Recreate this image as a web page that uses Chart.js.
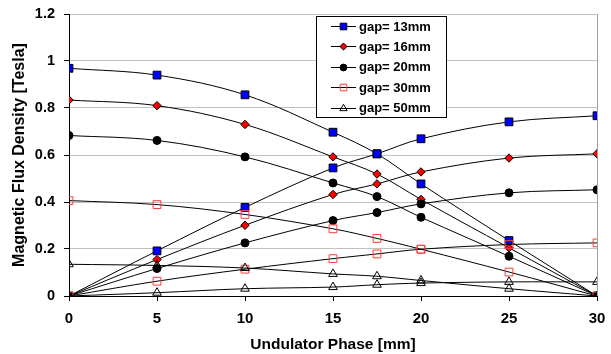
<!DOCTYPE html>
<html>
<head>
<meta charset="utf-8">
<script src="https://cdn.jsdelivr.net/npm/chart.js@4/dist/chart.umd.min.js"></script>
<style>
html,body{margin:0;padding:0;background:#fff;}
#wrap{width:611px;height:354px;position:relative;}
</style>
</head>
<body>
<div id="wrap"><canvas id="c" width="611" height="354"></canvas></div>
<script>
// Undulator phase [mm]
const phase = [0, 5, 10, 15, 17.5, 20, 25, 30];
// Magnetic flux density [Tesla], two curves per gap
const gap13Down = [0.969, 0.940, 0.856, 0.697, 0.605, 0.477, 0.236, 0];
const gap13Up   = [0, 0.192, 0.377, 0.545, 0.605, 0.669, 0.741, 0.767];
const gap16Down = [0.834, 0.810, 0.730, 0.592, 0.519, 0.411, 0.205, 0];
const gap16Up   = [0, 0.155, 0.301, 0.432, 0.477, 0.528, 0.587, 0.605];
const gap20Down = [0.683, 0.662, 0.592, 0.481, 0.423, 0.335, 0.169, 0];
const gap20Up   = [0, 0.117, 0.226, 0.321, 0.355, 0.392, 0.439, 0.452];
const gap30Down = [0.406, 0.389, 0.347, 0.286, 0.245, 0.199, 0.102, 0];
const gap30Up   = [0, 0.063, 0.114, 0.159, 0.179, 0.199, 0.219, 0.226];
const gap50Down = [0.135, 0.130, 0.119, 0.094, 0.084, 0.066, 0.031, 0];
const gap50Up   = [0, 0.014, 0.031, 0.038, 0.048, 0.055, 0.060, 0.060];
const seriesLabels = ['gap= 13mm', 'gap= 16mm', 'gap= 20mm', 'gap= 30mm', 'gap= 50mm'];
const yTicks = [0, 0.2, 0.4, 0.6, 0.8, 1, 1.2];
const xTicks = [0, 5, 10, 15, 20, 25, 30];

const FONT = "'Liberation Sans', Arial, sans-serif";
const styles = [
  {pointStyle:'rect', radius:5.5, bg:'#0000ff', border:'#000000'},
  {pointStyle:'rectRot', radius:4.2, bg:'#ff0000', border:'#000000'},
  {pointStyle:'circle', radius:4, bg:'#000000', border:'#000000'},
  {pointStyle:'rect', radius:5.5, bg:'rgba(0,0,0,0)', border:'#ff3b3b'},
  {pointStyle:'triangle', radius:5, bg:'rgba(255,255,255,0)', border:'#000000'}
];
const pairs = [[gap13Down, gap13Up],[gap16Down, gap16Up],[gap20Down, gap20Up],[gap30Down, gap30Up],[gap50Down, gap50Up]];

const datasets = [];
pairs.forEach((pair, i) => {
  pair.forEach((vals, j) => {
    const s = styles[i];
    datasets.push({
      label: seriesLabels[i],
      data: phase.map((x, k) => ({x: x, y: vals[k]})),
      borderColor: '#000000',
      borderWidth: 1,
      backgroundColor: s.bg,
      pointStyle: s.pointStyle,
      pointRadius: s.radius,
      pointBackgroundColor: s.bg,
      pointBorderColor: s.border,
      pointBorderWidth: 1,
      tension: 0.35,
      fill: false,
      order: -(i * 2 + j)
    });
  });
});

const legendPlugin = {
  id: 'boxLegend',
  afterDatasetsDraw(chart) {
    const ctx = chart.ctx;
    const x0 = 316, y0 = 16, w = 130, h = 101;
    ctx.save();
    ctx.fillStyle = '#ffffff';
    ctx.fillRect(x0, y0, w, h);
    ctx.strokeStyle = '#000000';
    ctx.lineWidth = 1;
    ctx.strokeRect(x0 + 0.5, y0 + 0.5, w, h);
    ctx.font = 'bold 13px ' + FONT;
    ctx.textBaseline = 'middle';
    ctx.textAlign = 'left';
    seriesLabels.forEach((lab, i) => {
      const cy = 26 + i * 20.4;
      const s = styles[i];
      ctx.strokeStyle = '#000000';
      ctx.lineWidth = 1;
      ctx.beginPath();
      ctx.moveTo(331, Math.round(cy) + 0.5);
      ctx.lineTo(356, Math.round(cy) + 0.5);
      ctx.stroke();
      ctx.fillStyle = s.bg;
      ctx.strokeStyle = s.border;
      Chart.helpers.drawPoint(ctx, {pointStyle: s.pointStyle, radius: s.radius * 0.85, rotation: 0, borderWidth: 1}, 343.5, Math.round(cy) + 0.5);
      ctx.fillStyle = '#000000';
      ctx.fillText(lab, 359, cy + 1);
    });
    ctx.restore();
  }
};

new Chart(document.getElementById('c'), {
  type: 'line',
  data: {datasets: datasets},
  plugins: [legendPlugin],
  options: {
    responsive: false,
    animation: false,
    devicePixelRatio: 1,
    layout: {padding: {left: 0, right: 14, top: 14, bottom: 0}},
    plugins: {legend: {display: false}, tooltip: {enabled: false}},
    scales: {
      x: {
        type: 'linear',
        min: 0, max: 30,
        afterBuildTicks(scale) { scale.ticks = xTicks.map(v => ({value: v})); },
        afterFit(scale) { scale.height = 58; scale.paddingLeft = 0; scale.paddingRight = 0; },
        ticks: {color: '#000', padding: 9, font: {family: FONT, size: 15, weight: 'bold'}},
        grid: {
          drawOnChartArea: true,
          color: ctx => (ctx.tick && ctx.tick.value === 30) ? '#a0a0a0' : 'rgba(0,0,0,0)',
          tickColor: '#000000',
          tickLength: 5
        },
        border: {display: true, color: '#000000', width: 1},
        title: {display: true, text: 'Undulator Phase [mm]', color: '#000', padding: {top: 3, bottom: 0}, font: {family: FONT, size: 15.5, weight: 'bold'}}
      },
      y: {
        type: 'linear',
        min: 0, max: 1.2,
        afterBuildTicks(scale) { scale.ticks = yTicks.map(v => ({value: v})); },
        afterFit(scale) { scale.width = 69; scale.paddingTop = 0; scale.paddingBottom = 0; },
        ticks: {color: '#000', padding: 9, font: {family: FONT, size: 14.5, weight: 'bold'},
          callback: v => String(Number(v.toFixed(1)))},
        grid: {
          color: ctx => (ctx.tick && ctx.tick.value === 0) ? 'rgba(0,0,0,0)' : '#c0c0c0',
          tickColor: '#000000',
          tickLength: 5
        },
        border: {display: true, color: '#000000', width: 1},
        title: {display: true, text: 'Magnetic Flux Density [Tesla]', color: '#000', padding: {top: 10, bottom: 0}, font: {family: FONT, size: 16, weight: 'bold'}}
      }
    }
  }
});
</script>
</body>
</html>
